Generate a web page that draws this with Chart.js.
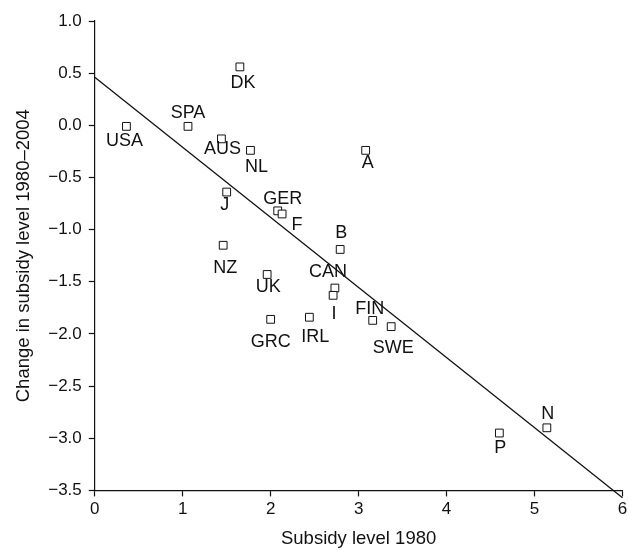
<!DOCTYPE html>
<html>
<head>
<meta charset="utf-8">
<script src="https://cdn.jsdelivr.net/npm/chart.js@4"></script>
<style>
  html, body { margin: 0; padding: 0; background: #fff; }
  #wrap { width: 629px; height: 550px; }
</style>
</head>
<body>
<div id="wrap"><canvas id="subsidyChart" width="629" height="550"></canvas></div>
<script>
// country codes and values
const countries   = ['USA', 'SPA', 'DK', 'AUS', 'NL', 'J', 'GER', 'F', 'A', 'B',
                     'NZ', 'UK', 'CAN', 'I', 'GRC', 'IRL', 'FIN', 'SWE', 'P', 'N'];
const subsidy1980 = [0.36, 1.06, 1.65, 1.44, 1.77, 1.50, 2.08, 2.13, 3.08, 2.79,
                     1.46, 1.96, 2.73, 2.71, 2.00, 2.44, 3.16, 3.37, 4.60, 5.14];
const change8004  = [-0.01, -0.01, 0.56, -0.13, -0.24, -0.64, -0.82, -0.85, -0.24, -1.19,
                     -1.15, -1.43, -1.56, -1.63, -1.86, -1.84, -1.87, -1.93, -2.95, -2.90];
// fitted line end points
const fitX = [0, 6];
const fitY = [0.46, -3.57];

// where each label sits relative to its marker (px)
const labelOffsets = [[-2, 15], [0, -13], [3, 16], [1, 10], [6, 17], [-2, 13], [5, -12], [15, 11], [2, 13], [1, -16],
                      [2, 23], [1, 13], [-7, -16], [1, 19], [0, 23], [6, 20], [-3, -11], [2, 21], [1, 15], [1, -14]];

const FONT = "'Liberation Sans', Arial, Helvetica, sans-serif";

const countryLabels = {
    id: 'countryLabels',
    afterDatasetsDraw(chart) {
        const ctx = chart.ctx;
        const meta = chart.getDatasetMeta(1);
        ctx.save();
        ctx.font = '18px ' + FONT;
        ctx.fillStyle = '#111';
        ctx.textAlign = 'center';
        ctx.textBaseline = 'middle';
        meta.data.forEach(function (pt, i) {
            ctx.fillText(countries[i], pt.x + labelOffsets[i][0], pt.y + labelOffsets[i][1]);
        });
        ctx.restore();
    }
};

function fmtY(v) {
    const s = Math.abs(v).toFixed(1);
    return v < 0 ? '\u2212' + s : s;
}

const axisGrid = {
    display: true,
    drawOnChartArea: false,
    drawTicks: true,
    tickLength: 6,
    tickWidth: 1.2,
    tickColor: '#111',
    color: '#111'
};

const ctx = document.getElementById('subsidyChart').getContext('2d');
new Chart(ctx, {
    type: 'scatter',
    data: {
        datasets: [
            {
                type: 'line',
                data: fitX.map((x, i) => ({x: x, y: fitY[i]})),
                borderColor: '#111',
                borderWidth: 1.3,
                pointRadius: 0,
                fill: false,
                clip: false,
                order: 2
            },
            {
                data: subsidy1980.map((x, i) => ({x: x, y: change8004[i]})),
                pointStyle: 'rect',
                pointRadius: 5.5,
                borderColor: '#111',
                borderWidth: 1,
                backgroundColor: '#fff',
                order: 1
            }
        ]
    },
    options: {
        responsive: false,
        animation: false,
        layout: { padding: { top: 21, right: 0, left: 13, bottom: 0 } },
        plugins: {
            legend: { display: false },
            tooltip: { enabled: false }
        },
        scales: {
            x: {
                type: 'linear',
                min: 0,
                max: 6,
                afterFit: function (scale) { scale.paddingRight = 1; },
                ticks: { stepSize: 1, color: '#111', font: { family: FONT, size: 17 }, padding: 3 },
                grid: axisGrid,
                border: { display: true, color: '#111', width: 1.2 },
                title: { display: true, text: 'Subsidy level 1980', color: '#111',
                         font: { family: FONT, size: 18.5 }, padding: { top: 5, bottom: 0 } }
            },
            y: {
                min: -3.5,
                max: 1.0,
                ticks: { stepSize: 0.5, color: '#111', font: { family: FONT, size: 17 }, padding: 7,
                         callback: function (v) { return fmtY(v); } },
                grid: axisGrid,
                border: { display: true, color: '#111', width: 1.2 },
                title: { display: true, text: 'Change in subsidy level 1980\u20132004', color: '#111',
                         font: { family: FONT, size: 18.5 }, padding: { top: 0, bottom: 6 } }
            }
        }
    },
    plugins: [countryLabels]
});
</script>
</body>
</html>
